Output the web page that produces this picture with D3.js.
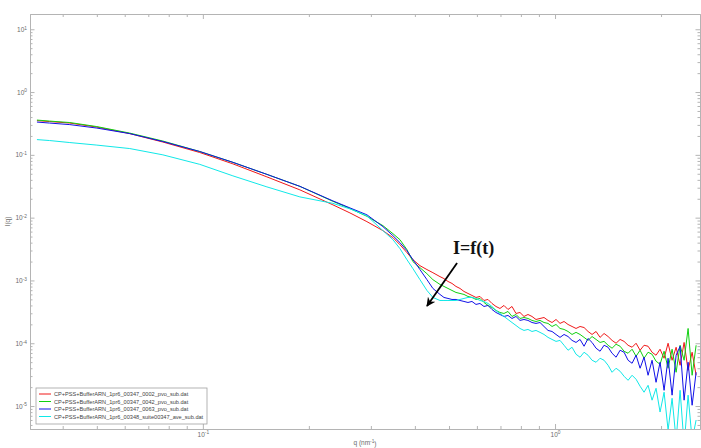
<!DOCTYPE html>
<html>
<head>
<meta charset="utf-8">
<script src="https://cdn.jsdelivr.net/npm/d3@7"></script>
<style>
body { margin: 0; background: #fff; }
</style>
</head>
<body>
<svg width="701" height="448"></svg>
<script>
// scattering vector q (nm^-1)
const q = [0.0338,0.0367,0.0419,0.0500,0.0620,0.0770,0.0980,0.1217,0.1520,0.1886,0.2340,0.2616,0.2923,0.3246,0.3465,0.3628,0.3798,0.3950,0.4135,0.4328,0.4500,0.4713,
  0.4838,0.4966,0.5098,0.5233,0.5372,0.5514,0.5660,0.5810,0.5964,0.6122,0.6284,0.6451,0.6622,0.6797,0.6977,0.7162,0.7352,0.7547,0.7747,0.7952,
  0.8163,0.8379,0.8601,0.8830,0.9064,0.9305,0.9552,0.9806,1.0065,1.0332,1.0607,1.0887,1.1176,1.1472,1.1777,1.2089,1.2410,1.2738,1.3077,1.3424,
  1.3779,1.4146,1.4519,1.4904,1.5300,1.5704,1.6121,1.6550,1.6986,1.7438,1.7896,1.8372,1.8860,1.9357,1.9871,2.0400,2.0941,2.1497,2.2071,2.2652,
  2.3254,2.3869,2.4505,2.5154]

const I_0002 = [0.351,0.339,0.321,0.277,0.218,0.160,0.109,0.0719,0.0446,0.0277,0.0160,0.0119,0.00864,0.00621,0.00480,0.00371,0.00277,0.00214,0.00172,0.00149,0.00133,0.00115,
  1.07e-3,9.64e-4,8.96e-4,8.03e-4,7.46e-4,6.68e-4,6.21e-4,5.77e-4,5.36e-4,5.56e-4,
  4.80e-4,4.98e-4,4.30e-4,3.85e-4,3.58e-4,4.00e-4,3.45e-4,3.85e-4,2.98e-4,3.09e-4,
  2.67e-4,2.87e-4,2.67e-4,2.39e-4,2.48e-4,2.57e-4,2.31e-4,2.14e-4,2.39e-4,2.07e-4,
  2.22e-4,1.99e-4,1.85e-4,1.72e-4,1.85e-4,1.78e-4,1.54e-4,1.38e-4,1.54e-4,1.24e-4,
  1.43e-4,1.28e-4,1.11e-4,1.00e-4,1.15e-4,1.07e-4,9.29e-5,8.64e-5,1.00e-4,7.74e-5,
  9.29e-5,8.96e-5,7.19e-5,6.44e-5,8.03e-5,5.77e-5,1.00e-4,5.36e-5,8.64e-5,4.46e-5,
  1.03e-4,3.71e-5,7.19e-5,3.09e-5]

const I_0042 = [0.358,0.345,0.327,0.282,0.222,0.166,0.113,0.0760,0.0489,0.0315,0.0182,0.0140,0.0105,0.00746,0.00556,0.00446,0.00309,0.00199,0.00160,0.00128,0.00103,0.000864,
  8.03e-4,7.46e-4,6.93e-4,6.44e-4,6.21e-4,5.99e-4,5.56e-4,5.36e-4,4.98e-4,5.17e-4,
  4.46e-4,4.00e-4,3.71e-4,3.33e-4,3.09e-4,2.98e-4,3.21e-4,2.67e-4,2.87e-4,2.48e-4,
  2.57e-4,2.48e-4,2.31e-4,2.22e-4,2.31e-4,2.14e-4,2.07e-4,1.85e-4,1.99e-4,1.72e-4,
  1.66e-4,1.54e-4,1.38e-4,1.49e-4,1.38e-4,1.24e-4,1.11e-4,1.28e-4,1.15e-4,1.03e-4,
  1.07e-4,9.29e-5,8.33e-5,9.64e-5,8.96e-5,7.46e-5,6.93e-5,8.03e-5,6.21e-5,7.74e-5,
  5.77e-5,7.19e-5,6.68e-5,5.17e-5,4.63e-5,7.46e-5,4.00e-5,8.03e-5,3.45e-5,9.29e-5,
  5.36e-5,1.72e-4,3.09e-5,9.29e-5]

const I_0063 = [0.333,0.321,0.303,0.267,0.218,0.163,0.113,0.0760,0.0489,0.0315,0.0185,0.0143,0.0111,0.00719,0.00517,0.00400,0.00298,0.00214,0.00149,0.00103,0.000746,0.000599,
  5.36e-4,5.17e-4,4.98e-4,4.98e-4,4.80e-4,4.63e-4,4.46e-4,4.63e-4,4.15e-4,4.30e-4,
  3.85e-4,4.00e-4,3.45e-4,3.09e-4,2.87e-4,2.67e-4,2.77e-4,2.48e-4,2.67e-4,2.31e-4,
  2.39e-4,2.31e-4,2.14e-4,2.07e-4,2.14e-4,1.85e-4,1.60e-4,1.54e-4,1.38e-4,1.24e-4,
  1.38e-4,1.28e-4,1.11e-4,1.03e-4,1.15e-4,8.96e-5,1.19e-4,1.03e-4,8.33e-5,7.46e-5,
  9.29e-5,8.64e-5,6.93e-5,5.99e-5,7.74e-5,7.19e-5,5.36e-5,4.80e-5,6.44e-5,4.00e-5,
  5.99e-5,3.09e-5,5.36e-5,2.39e-5,4.98e-5,1.78e-5,5.77e-5,1.49e-5,6.44e-5,8.96e-5,
  1.24e-5,4.98e-5,1.03e-5,3.45e-5]

const I_suite = [0.175,0.169,0.157,0.143,0.126,0.100,0.0706,0.0463,0.0309,0.0214,0.0169,0.0138,0.0107,0.00621,0.00446,0.00321,0.00214,0.00154,0.00103,0.000693,0.000536,0.000480,
  4.80e-4,4.80e-4,4.80e-4,4.80e-4,4.98e-4,5.17e-4,5.36e-4,5.36e-4,5.17e-4,4.80e-4,
  4.63e-4,4.30e-4,3.85e-4,3.33e-4,2.98e-4,2.67e-4,2.39e-4,2.14e-4,1.92e-4,1.72e-4,
  1.60e-4,1.66e-4,1.54e-4,1.60e-4,1.49e-4,1.38e-4,1.24e-4,1.15e-4,1.07e-4,1.11e-4,
  9.29e-5,7.74e-5,8.64e-5,6.68e-5,5.99e-5,7.19e-5,6.44e-5,5.36e-5,4.98e-5,5.77e-5,
  5.36e-5,4.46e-5,3.45e-5,4.00e-5,3.58e-5,2.98e-5,2.57e-5,3.09e-5,2.67e-5,2.07e-5,
  1.66e-5,2.14e-5,1.24e-5,1.92e-5,8.03e-6,1.66e-5,4.15e-6,1.33e-5,2.87e-6,1.78e-5,
  2.39e-6,1.49e-5,2.87e-6,5.99e-6]

const names = [
  "CP+PSS+BufferARN_1pr6_00347_0002_pvo_sub.dat",
  "CP+PSS+BufferARN_1pr6_00347_0042_pvo_sub.dat",
  "CP+PSS+BufferARN_1pr6_00347_0063_pvo_sub.dat",
  "CP+PSS+BufferARN_1pr6_00348_suite00347_ave_sub.dat"
]
const colors = ["#f01818", "#10d010", "#1010e8", "#10e8e8"]
const series = [I_0002, I_0042, I_0063, I_suite]

// annotation I=f(t), in data units
const arrowFrom = [0.527, 1.90e-3]
const arrowTo = [0.433, 3.93e-4]
const noteAt = [0.513, 2.64e-3]
const noteText = "I=f(t)"

let pLeft = 30, pRight = 700, pTop = 14, pBottom = 429
let axisColor = "#b4b4b4"
let labelColor = "#6a6a6a"
let sans = "'Liberation Sans', Arial, sans-serif"

var svg = d3.select("svg")
let x = d3.scaleLog().domain([0.0323, 2.58]).range([pLeft, pRight])
let y = d3.scaleLog().domain([4.31e-6, 17.5]).range([pBottom, pTop])

svg.append("defs").append("clipPath").attr("id", "plotclip")
  .append("rect").attr("x", pLeft).attr("y", pTop)
  .attr("width", pRight - pLeft).attr("height", pBottom - pTop)

let isMajor = v => Math.abs(Math.log10(v) - Math.round(Math.log10(v))) < 1e-6
let xMajor = x.ticks().filter(isMajor)
let xMinor = x.ticks().filter(v => !isMajor(v))
let yMajor = y.ticks().filter(isMajor)
let yMinor = y.ticks().filter(v => !isMajor(v))

function supLabels(sel){
  sel.selectAll(".tick text").each(function(d){
    let t = d3.select(this)
    t.text("")
    t.append("tspan").text("10")
    t.append("tspan").attr("dy", "-0.45em").attr("font-size", "4.8px")
      .text(Math.round(Math.log10(d)))
  })
}

function styleAxis(g){
  g.selectAll("path").attr("stroke", axisColor)
  g.selectAll("line").attr("stroke", axisColor)
  g.selectAll("text").attr("fill", labelColor).attr("font-size", "6.5px")
    .style("font-family", sans)
}

// bottom
svg.append("g").attr("transform", `translate(0,${pBottom})`)
  .call(d3.axisBottom(x).tickValues(xMinor).tickSize(-3).tickSizeOuter(0).tickFormat(""))
  .call(styleAxis)
svg.append("g").attr("transform", `translate(0,${pBottom})`)
  .call(d3.axisBottom(x).tickValues(xMajor).tickSize(-5).tickSizeOuter(0).tickPadding(3))
  .call(supLabels).call(styleAxis)
// top
svg.append("g").attr("transform", `translate(0,${pTop})`)
  .call(d3.axisTop(x).tickValues(xMinor).tickSize(-3).tickSizeOuter(0).tickFormat(""))
  .call(styleAxis)
svg.append("g").attr("transform", `translate(0,${pTop})`)
  .call(d3.axisTop(x).tickValues(xMajor).tickSize(-5).tickSizeOuter(0).tickFormat(""))
  .call(styleAxis)
// left
svg.append("g").attr("transform", `translate(${pLeft},0)`)
  .call(d3.axisLeft(y).tickValues(yMinor).tickSize(-2.5).tickSizeOuter(0).tickFormat(""))
  .call(styleAxis)
svg.append("g").attr("transform", `translate(${pLeft},0)`)
  .call(d3.axisLeft(y).tickValues(yMajor).tickSize(-4.5).tickSizeOuter(0).tickPadding(3))
  .call(supLabels).call(styleAxis)
// right
svg.append("g").attr("transform", `translate(${pRight},0)`)
  .call(d3.axisRight(y).tickValues(yMinor).tickSize(-2.5).tickSizeOuter(0).tickFormat(""))
  .call(styleAxis)
svg.append("g").attr("transform", `translate(${pRight},0)`)
  .call(d3.axisRight(y).tickValues(yMajor).tickSize(-4.5).tickSizeOuter(0).tickFormat(""))
  .call(styleAxis)

// curves
let line = d3.line().x(d => x(d[0])).y(d => y(d[1]))
let plot = svg.append("g").attr("clip-path", "url(#plotclip)")
for (let i = 0; i < series.length; i++) {
  let pts = q.map((v, j) => [v, series[i][j]])
  plot.append("path")
    .attr("d", line(pts))
    .attr("fill", "none")
    .attr("stroke", colors[i])
    .attr("stroke-width", 1)
    .attr("stroke-linejoin", "round")
}

// axis titles
svg.append("text")
  .attr("x", (pLeft + pRight) / 2).attr("y", 445)
  .attr("text-anchor", "middle").attr("font-size", "6.5px").attr("fill", labelColor)
  .style("font-family", sans)
  .html('q (nm<tspan dy="-0.45em" font-size="4.8px">-1</tspan><tspan dy="0.45em">)</tspan>')
svg.append("text")
  .attr("transform", `translate(10,${(pTop + pBottom) / 2}) rotate(-90)`)
  .attr("text-anchor", "middle").attr("font-size", "6.5px").attr("fill", labelColor)
  .style("font-family", sans)
  .text("I(q)")

// legend
let lg = svg.append("g")
lg.append("rect").attr("x", 36).attr("y", 388).attr("width", 171).attr("height", 36)
  .attr("fill", "#fff").attr("stroke", "#a0a0a0").attr("stroke-width", 0.8)
names.forEach((n, i) => {
  let ly = 394 + i * 7.5
  lg.append("line").attr("x1", 39).attr("x2", 51).attr("y1", ly).attr("y2", ly)
    .attr("stroke", colors[i]).attr("stroke-width", 1)
  lg.append("text").attr("x", 54).attr("y", ly + 2)
    .attr("font-size", "5.6px").attr("fill", "#444")
    .style("font-family", sans).text(n)
})

// annotation
svg.append("defs").append("marker").attr("id", "head")
  .attr("viewBox", "0 0 10 10").attr("refX", 9).attr("refY", 5)
  .attr("markerWidth", 5).attr("markerHeight", 5).attr("orient", "auto")
  .append("path").attr("d", "M0,0 L10,5 L0,10 L3,5 z").attr("fill", "#000")
svg.append("line")
  .attr("x1", x(arrowFrom[0])).attr("y1", y(arrowFrom[1]))
  .attr("x2", x(arrowTo[0])).attr("y2", y(arrowTo[1]))
  .attr("stroke", "#000").attr("stroke-width", 1.8)
  .attr("marker-end", "url(#head)")
svg.append("text")
  .attr("x", x(noteAt[0])).attr("y", y(noteAt[1]))
  .style("font-family", "'Liberation Serif', 'Times New Roman', serif")
  .attr("font-weight", "bold").attr("font-size", "18px").attr("fill", "#111")
  .text(noteText)
</script>
</body>
</html>
